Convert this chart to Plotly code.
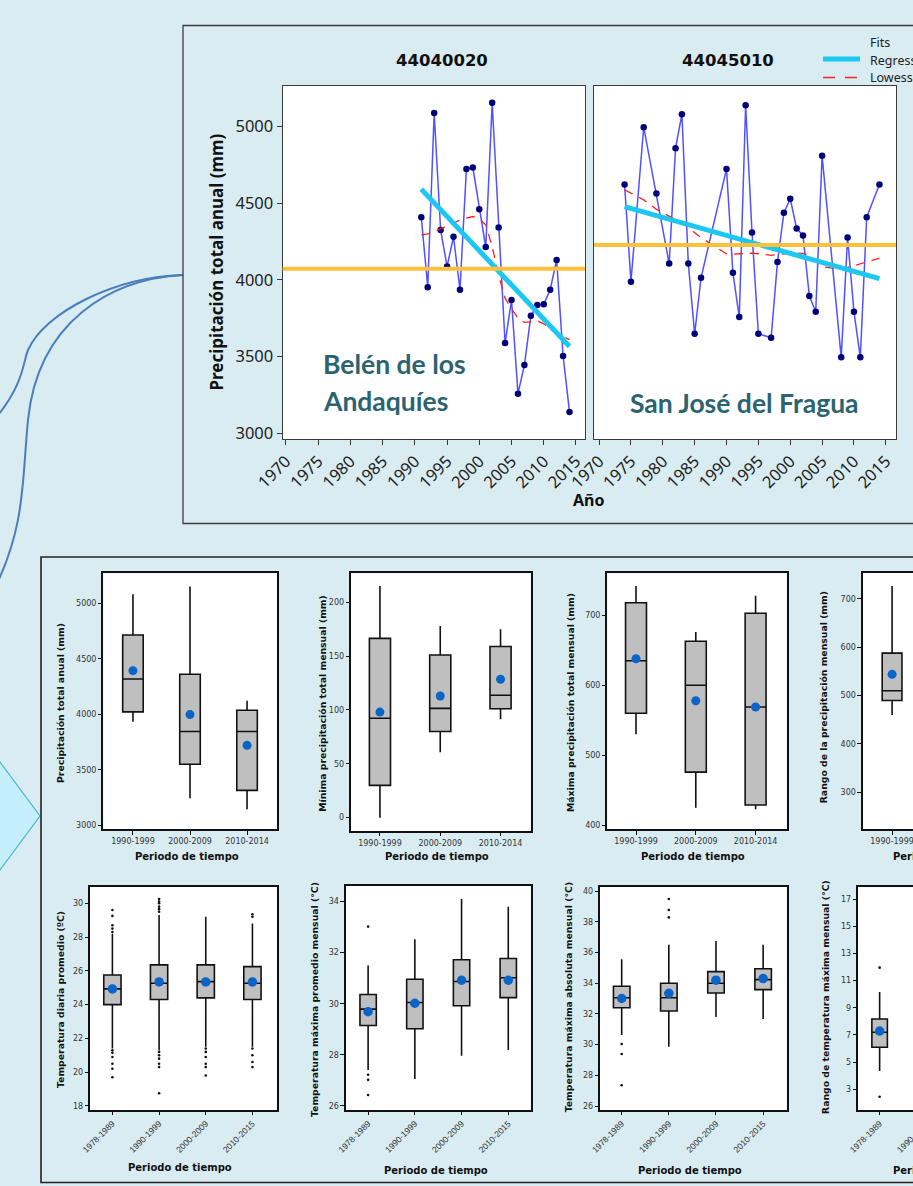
import plotly.graph_objects as go

W, H = 1000, 1186
BG = "#d9ecf2"


def fx(px):
    return px / W


def fy(py):
    return 1 - py / H


def pt(px, py):
    return f"{fx(px):.5f},{fy(py):.5f}"


# ---------------- data: annual precipitation series ----------------
years_belen = [1991, 1992, 1993, 1994, 1995, 1996, 1997, 1998, 1999, 2000,
               2001, 2002, 2003, 2004, 2005, 2006, 2007, 2008, 2009, 2010,
               2011, 2012, 2013, 2014]
precip_belen = [4409, 3952, 5089, 4325, 4087, 4281, 3935, 4724, 4733, 4461,
                4214, 5156, 4342, 3587, 3868, 3257, 3444, 3765, 3835, 3841,
                3935, 4130, 3503, 3138]
lowess_belen = [4294, 4300, 4315, 4335, 4355, 4372, 4390, 4403, 4413, 4398,
                4359, 4216, 4030, 3880, 3810, 3750, 3722, 3725, 3733, 3713,
                3680, 3650, 3630, 3610]
reg_years_belen = [1991, 2014]
reg_belen = [4592, 3565]
mean_belen = 4073

years_sanjose = [1974, 1975, 1977, 1979, 1981, 1982, 1983, 1984, 1985, 1986,
                 1990, 1991, 1992, 1993, 1994, 1995, 1997, 1998, 1999, 2000,
                 2001, 2002, 2003, 2004, 2005, 2008, 2009, 2010, 2011, 2012,
                 2014]
precip_sanjose = [4622, 3987, 4996, 4563, 4106, 4859, 5081, 4106, 3648, 4013,
                  4724, 4046, 3757, 5139, 4309, 3648, 3622, 4117, 4437, 4529,
                  4335, 4290, 3894, 3791, 4809, 3494, 4276, 3791, 3494, 4409,
                  4622]
lowess_sanjose = [4587, 4565, 4522, 4460, 4415, 4390, 4370, 4340, 4305, 4275,
                  4170, 4167, 4170, 4172, 4174, 4170, 4160, 4165, 4170, 4174,
                  4175, 4172, 4160, 4125, 4085, 4068, 4080, 4088, 4100, 4115,
                  4141]
reg_years_sanjose = [1974, 2014]
reg_sanjose = [4478, 4008]
mean_sanjose = 4228

year_ticks = [1970, 1975, 1980, 1985, 1990, 1995, 2000, 2005, 2010, 2015]
precip_ticks = [3000, 3500, 4000, 4500, 5000]

# ---------------- data: box plots ----------------
periods_prec = ["1990-1999", "2000-2009", "2010-2014"]
periods_temp = ["1978-1989", "1990-1999", "2000-2009", "2010-2015"]

anual_upper = [5081, 5150, 4123]
anual_q3 = [4714, 4360, 4036]
anual_median = [4318, 3845, 3845]
anual_q1 = [4022, 3550, 3315]
anual_lower = [3933, 3243, 3144]
anual_mean = [4393, 3997, 3720]

minima_upper = [215, 178, 175]
minima_q3 = [166.5, 151, 159]
minima_median = [92.3, 101.5, 113.6]
minima_q1 = [30, 80, 101.2]
minima_lower = [0, 60.7, 91.3]
minima_mean = [98, 113, 128.5]

maxima_upper = [742, 676, 728]
maxima_q3 = [718, 663, 703]
maxima_median = [635, 600, 569]
maxima_q1 = [560, 476, 429]
maxima_lower = [530, 425, 423]
maxima_mean = [638, 578, 569]

rango_p_upper = [727]
rango_p_q3 = [588]
rango_p_median = [510]
rango_p_q1 = [490]
rango_p_lower = [460]
rango_p_mean = [544]

tdiaria_upper = [28.2, 29.3, 29.2, 28.8]
tdiaria_q3 = [25.75, 26.35, 26.35, 26.25]
tdiaria_median = [24.93, 25.26, 25.36, 25.26]
tdiaria_q1 = [24.0, 24.3, 24.4, 24.3]
tdiaria_lower = [21.4, 21.3, 21.5, 21.5]
tdiaria_mean = [24.93, 25.34, 25.34, 25.34]
tdiaria_out_cat = [0, 0, 0, 0, 0, 0, 0, 0, 0, 0, 0,
                   1, 1, 1, 1, 1, 1, 1, 1, 1, 1, 1, 1,
                   2, 2, 2, 2, 2, 2,
                   3, 3, 3, 3, 3, 3]
tdiaria_out_val = [28.3, 28.5, 28.7, 29.25, 29.6, 21.3, 21.15, 20.9, 20.5, 20.2, 19.7,
                   29.5, 29.65, 29.8, 30.0, 30.1, 30.25, 21.2, 21.0, 20.8, 20.5, 20.3, 18.75,
                   21.4, 21.2, 20.9, 20.5, 20.3, 19.8,
                   29.2, 29.35, 21.4, 21.0, 20.6, 20.3]

tmaxprom_upper = [31.5, 32.53, 34.1, 33.8]
tmaxprom_q3 = [30.36, 30.96, 31.72, 31.77]
tmaxprom_median = [29.79, 30.05, 30.87, 31.02]
tmaxprom_q1 = [29.15, 29.02, 29.92, 30.24]
tmaxprom_lower = [27.41, 27.05, 27.96, 28.19]
tmaxprom_mean = [29.69, 30.02, 30.92, 30.92]
tmaxprom_out_cat = [0, 0, 0, 0]
tmaxprom_out_val = [33.02, 27.22, 27.02, 26.43]

tmaxabs_upper = [35.55, 36.5, 36.74, 36.5]
tmaxabs_q3 = [33.8, 33.99, 34.75, 34.94]
tmaxabs_median = [33.05, 33.05, 33.99, 34.23]
tmaxabs_q1 = [32.4, 32.19, 33.36, 33.58]
tmaxabs_lower = [30.62, 29.86, 31.8, 31.67]
tmaxabs_mean = [33.0, 33.34, 34.19, 34.3]
tmaxabs_out_cat = [0, 0, 0, 1, 1, 1]
tmaxabs_out_val = [30.04, 29.39, 27.35, 39.48, 38.76, 38.28]

rango_t_upper = [10.17]
rango_t_q3 = [8.18]
rango_t_median = [7.2]
rango_t_q1 = [6.09]
rango_t_lower = [4.35]
rango_t_mean = [7.29]
rango_t_out_cat = [0, 0]
rango_t_out_val = [11.96, 2.45]

panels = [
    dict(cats=periods_prec, lower=anual_lower, q1=anual_q1, med=anual_median, q3=anual_q3,
         upper=anual_upper, mean=anual_mean, out_cat=[], out_val=[],
         ytitle="Precipitación total anual (mm)", yticks=[3000, 3500, 4000, 4500, 5000]),
    dict(cats=periods_prec, lower=minima_lower, q1=minima_q1, med=minima_median, q3=minima_q3,
         upper=minima_upper, mean=minima_mean, out_cat=[], out_val=[],
         ytitle="Mínima precipitación total mensual (mm)", yticks=[0, 50, 100, 150, 200]),
    dict(cats=periods_prec, lower=maxima_lower, q1=maxima_q1, med=maxima_median, q3=maxima_q3,
         upper=maxima_upper, mean=maxima_mean, out_cat=[], out_val=[],
         ytitle="Máxima precipitación total mensual (mm)", yticks=[400, 500, 600, 700]),
    dict(cats=periods_prec, lower=rango_p_lower, q1=rango_p_q1, med=rango_p_median, q3=rango_p_q3,
         upper=rango_p_upper, mean=rango_p_mean, out_cat=[], out_val=[],
         ytitle="Rango de la precipitación mensual (mm)", yticks=[300, 400, 500, 600, 700]),
    dict(cats=periods_temp, lower=tdiaria_lower, q1=tdiaria_q1, med=tdiaria_median, q3=tdiaria_q3,
         upper=tdiaria_upper, mean=tdiaria_mean, out_cat=tdiaria_out_cat, out_val=tdiaria_out_val,
         ytitle="Temperatura diaria promedio (ºC)", yticks=[18, 20, 22, 24, 26, 28, 30]),
    dict(cats=periods_temp, lower=tmaxprom_lower, q1=tmaxprom_q1, med=tmaxprom_median, q3=tmaxprom_q3,
         upper=tmaxprom_upper, mean=tmaxprom_mean, out_cat=tmaxprom_out_cat, out_val=tmaxprom_out_val,
         ytitle="Temperatura máxima promedio mensual (°C)", yticks=[26, 28, 30, 32, 34]),
    dict(cats=periods_temp, lower=tmaxabs_lower, q1=tmaxabs_q1, med=tmaxabs_median, q3=tmaxabs_q3,
         upper=tmaxabs_upper, mean=tmaxabs_mean, out_cat=tmaxabs_out_cat, out_val=tmaxabs_out_val,
         ytitle="Temperatura máxima absoluta mensual (°C)", yticks=[26, 28, 30, 32, 34, 36, 38, 40]),
    dict(cats=periods_temp, lower=rango_t_lower, q1=rango_t_q1, med=rango_t_median, q3=rango_t_q3,
         upper=rango_t_upper, mean=rango_t_mean, out_cat=rango_t_out_cat, out_val=rango_t_out_val,
         ytitle="Rango de temperatura máxima mensual (°C)", yticks=[3, 5, 7, 9, 11, 13, 15, 17]),
]

# ---------------- geometry (pixels) ----------------
geom = [
    dict(x=(103.3, 276.7), y=(573.3, 829.3), xr=[-0.52, 2.52], yr=[2964, 5270], bw=0.36,
         yt=(60, 703), xt=(186.7, 856.7), rot=0),
    dict(x=(351, 530.7), y=(573.3, 830.7), xr=[-0.48, 2.5], yr=[-12.1, 226.9], bw=0.35,
         yt=(321.7, 703), xt=(436.7, 856.7), rot=0),
    dict(x=(607.3, 786.7), y=(573.3, 829.3), xr=[-0.48, 2.52], yr=[394.3, 760], bw=0.35,
         yt=(570, 703), xt=(693.3, 856.7), rot=0),
    dict(x=(862.7, 1000), y=(572.7, 829.3), xr=[-0.49, 1.8], yr=[223.4, 754.4], bw=0.33,
         yt=(823.3, 697), xt=(945, 856.7), rot=0),
    dict(x=(90, 276.7), y=(886.7, 1110), xr=[-0.48, 3.52], yr=[17.76, 30.98], bw=0.37,
         yt=(60, 1000), xt=(180, 1167), rot=-45),
    dict(x=(345.7, 530.7), y=(886, 1110), xr=[-0.48, 3.48], yr=[25.84, 34.61], bw=0.35,
         yt=(314, 1000), xt=(436, 1170), rot=-45),
    dict(x=(600, 786.7), y=(886.7, 1110), xr=[-0.46, 3.5], yr=[25.74, 40.28], bw=0.35,
         yt=(568.3, 997), xt=(690, 1170), rot=-45),
    dict(x=(858, 1000), y=(887.3, 1110), xr=[-0.46, 2.56], yr=[1.47, 17.88], bw=0.33,
         yt=(825, 997), xt=(945, 1170), rot=-45),
]

fig = go.Figure()

# ---------------- top panel traces ----------------
for xs, ys, lx, ly, rx, ry, xa, ya in [
    (years_belen, precip_belen, years_belen, lowess_belen, reg_years_belen, reg_belen, "x", "y"),
    (years_sanjose, precip_sanjose, years_sanjose, lowess_sanjose, reg_years_sanjose, reg_sanjose, "x2", "y2"),
]:
    fig.add_trace(go.Scatter(x=xs, y=ys, mode="lines+markers",
                             line=dict(color="#5151ff", width=1.5),
                             marker=dict(color="#00007a", size=6.5),
                             xaxis=xa, yaxis=ya, hoverinfo="skip"))
    fig.add_trace(go.Scatter(x=lx, y=ly, mode="lines",
                             line=dict(color="#ff2020", width=1.3, dash="9px,7px"),
                             xaxis=xa, yaxis=ya, hoverinfo="skip"))
    fig.add_trace(go.Scatter(x=rx, y=ry, mode="lines",
                             line=dict(color="#1cc8f2", width=5),
                             xaxis=xa, yaxis=ya, hoverinfo="skip"))

# ---------------- bottom panel traces ----------------
for i, (p, g) in enumerate(zip(panels, geom)):
    n = i + 3
    xa, ya = f"x{n}", f"y{n}"
    idx = list(range(len(p["q1"])))
    fig.add_trace(go.Box(x=idx, q1=p["q1"], median=p["med"], q3=p["q3"],
                         lowerfence=p["lower"], upperfence=p["upper"],
                         width=g["bw"], fillcolor="#bfbfbf",
                         line=dict(color="#111111", width=1.6), whiskerwidth=0,
                         boxpoints=False, xaxis=xa, yaxis=ya, hoverinfo="skip"))
    if p["out_val"]:
        fig.add_trace(go.Scatter(x=p["out_cat"], y=p["out_val"], mode="markers",
                                 marker=dict(color="#111111", size=2.6),
                                 xaxis=xa, yaxis=ya, hoverinfo="skip"))
    fig.add_trace(go.Scatter(x=idx, y=p["mean"], mode="markers",
                             marker=dict(color="#0b64c8", size=9.5 if i >= 4 else 9),
                             xaxis=xa, yaxis=ya, hoverinfo="skip"))

# ---------------- axes ----------------
top_common = dict(showline=True, mirror=True, linecolor="#3a3a3a", linewidth=1.3,
                  ticklen=5, tickcolor="#3a3a3a", showgrid=False, automargin=False,
                  zeroline=False, tickfont=dict(family="Noto Sans", size=16.5, color="#222222"))
ytop = (fy(439), fy(85.7))
layout = dict(
    xaxis=dict(domain=[fx(282.7), fx(585)], range=[1969.5, 2016.4], anchor="y", ticks="outside",
               tickvals=year_ticks, tickangle=-45, **top_common),
    yaxis=dict(domain=list(ytop), range=[2961, 5267], anchor="x", ticks="outside",
               tickvals=precip_ticks, **top_common),
    xaxis2=dict(domain=[fx(594), fx(896)], range=[1969.2, 2016.6], anchor="y2", ticks="outside",
                tickvals=year_ticks, tickangle=-45, **top_common),
    yaxis2=dict(domain=list(ytop), range=[2961, 5267], anchor="x2", ticks="",
                showticklabels=False, **top_common),
)

bot_common = dict(showline=True, mirror=True, linecolor="#111111", linewidth=1.5,
                  ticks="outside", ticklen=3.5, tickcolor="#111111", showgrid=False,
                  zeroline=False, automargin=False)
for i, (p, g) in enumerate(zip(panels, geom)):
    n = i + 3
    rot = g["rot"]
    layout[f"xaxis{n}"] = dict(
        domain=[fx(g["x"][0]), fx(g["x"][1])], range=g["xr"], anchor=f"y{n}",
        tickvals=list(range(len(p["cats"]))), ticktext=p["cats"], tickangle=rot,
        tickfont=(dict(family="DejaVu Sans", size=8, color="#333333") if rot == 0 else
                  dict(family="Liberation Sans Narrow, Liberation Sans", size=8.6, color="#333333")),
        **bot_common)
    layout[f"yaxis{n}"] = dict(
        domain=[fy(g["y"][1]), fy(g["y"][0])], range=g["yr"], anchor=f"x{n}",
        tickvals=p["yticks"], tickfont=dict(family="DejaVu Sans", size=8, color="#333333"),
        **bot_common)

# ---------------- annotations ----------------
ann = []


def text(px, py, s, size, family, color="#111111", bold=False, angle=0, xanchor="center"):
    ann.append(dict(x=fx(px), y=fy(py), xref="paper", yref="paper", text=f"<b>{s}</b>" if bold else s,
                    showarrow=False, textangle=angle, xanchor=xanchor, yanchor="middle",
                    font=dict(family=family, size=size, color=color)))


text(441.7, 60.5, "44040020", 16.5, "DejaVu Sans", bold=True)
text(728, 60.5, "44045010", 16.5, "DejaVu Sans", bold=True)
text(215.5, 262, "Precipitación total anual (mm)", 17, "Noto Sans", bold=True, angle=-90)
text(588, 500, "Año", 16, "Noto Sans", bold=True)
text(868, 42, "Fits", 12.5, "Noto Sans", color="#222222", xanchor="left")
text(868, 60, "Regression", 12.5, "Noto Sans", color="#222222", xanchor="left")
text(868, 78, "Lowess", 12.5, "Noto Sans", color="#222222", xanchor="left")
teal = "#2b6371"
text(320.5, 364, "Belén de los", 26.5, "Lato", color=teal, bold=True, xanchor="left")
text(320.5, 401, "Andaquíes", 26.5, "Lato", color=teal, bold=True, xanchor="left")
text(628, 402.5, "San José del Fragua", 26.5, "Lato", color=teal, bold=True, xanchor="left")

for p, g in zip(panels, geom):
    text(g["yt"][0], g["yt"][1], p["ytitle"], 9.3, "DejaVu Sans", bold=True, angle=-90)
    text(g["xt"][0], g["xt"][1], "Periodo de tiempo", 10, "DejaVu Sans", bold=True)

# ---------------- shapes ----------------
shapes = [
    # decorative connectors and arrow
    dict(type="path", xref="paper", yref="paper",
         path=f"M {pt(183,275)} C {pt(115,277)} {pt(45,312)} {pt(28,350)} "
              f"C {pt(23,362)} {pt(24,385)} {pt(-6,420)}",
         line=dict(color="#4a7ebb", width=2)),
    dict(type="path", xref="paper", yref="paper",
         path=f"M {pt(183,275)} C {pt(110,279)} {pt(38,322)} {pt(28,420)} "
              f"C {pt(22,480)} {pt(26,525)} {pt(-6,590)}",
         line=dict(color="#4a7ebb", width=2)),
    dict(type="path", xref="paper", yref="paper",
         path=f"M {pt(-3,758)} L {pt(40,816)} L {pt(-3,874)} Z",
         fillcolor="#c4eefa", line=dict(color="#4db4d4", width=1.2)),
    # panel frames
    dict(type="rect", xref="paper", yref="paper", x0=fx(183), x1=fx(1010), y0=fy(523.5), y1=fy(25.5),
         line=dict(color="#3c3c3c", width=1.3)),
    dict(type="rect", xref="paper", yref="paper", x0=fx(41), x1=fx(1010), y0=fy(1182.5), y1=fy(557),
         line=dict(color="#222222", width=1.6)),
    # mean reference lines
    dict(type="line", xref="x domain", yref="y", x0=0, x1=1, y0=mean_belen, y1=mean_belen,
         line=dict(color="#fbc13b", width=4), layer="above"),
    dict(type="line", xref="x2 domain", yref="y2", x0=0, x1=1, y0=mean_sanjose, y1=mean_sanjose,
         line=dict(color="#fbc13b", width=4), layer="above"),
    # legend glyphs
    dict(type="line", xref="paper", yref="paper", x0=fx(823), x1=fx(860), y0=fy(59), y1=fy(59),
         line=dict(color="#1cc8f2", width=5)),
    dict(type="line", xref="paper", yref="paper", x0=fx(823), x1=fx(857), y0=fy(77.5), y1=fy(77.5),
         line=dict(color="#ff2020", width=1.5, dash="12px,10px")),
]

fig.update_layout(
    width=W, height=H, margin=dict(l=0, r=0, t=0, b=0, autoexpand=False),
    paper_bgcolor=BG, plot_bgcolor="white", showlegend=False,
    annotations=ann, shapes=shapes, **layout)

fig.write_html("out.html", config={"displayModeBar": False},
               post_script="document.body.style.margin='0';"
                           "document.body.style.overflow='hidden';"
                           "document.documentElement.style.overflow='hidden';")
